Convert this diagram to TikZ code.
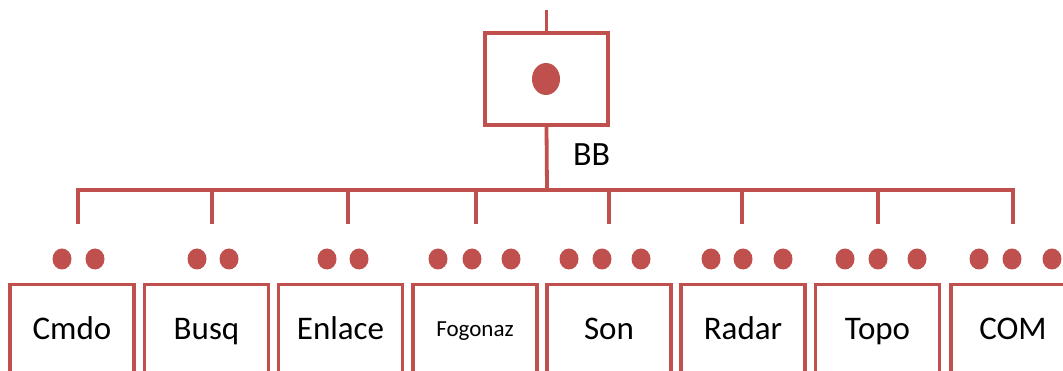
\documentclass[tikz,border=0pt]{standalone}
\usepackage{fontspec}
\setmainfont{Carlito}
\usetikzlibrary{shapes.geometric}
\definecolor{brick}{RGB}{192,80,77}
\tikzset{
  wire/.style={draw=brick, line width=3.8pt},
  unitbox/.style={draw=brick, line width=3.5pt, rectangle, minimum width=124pt, minimum height=130pt, anchor=north, inner sep=0pt},
  hq/.style={draw=brick, line width=3.5pt, rectangle, minimum width=123pt, minimum height=92pt, inner sep=0pt},
  rank/.style={ellipse, fill=brick, minimum width=19pt, minimum height=21pt, inner sep=0pt},
  bigrank/.style={ellipse, fill=brick, minimum width=28pt, minimum height=32pt, inner sep=0pt},
  unitname/.style={font=\fontsize{33}{36}\selectfont, inner sep=0pt, anchor=base},
}
\begin{document}
\begin{tikzpicture}[x=1pt, y=-1pt]
\useasboundingbox (0,0) rectangle (1063,371);
\clip (0,0) rectangle (1063,371);

% command post
\node[hq] (hq) at (546.5,79) {};
\node[bigrank] (hqrank) at (546,79) {};
\coordinate (up) at (546.5,10);
\draw[wire] (up) -- (hq.north);
\node[font=\fontsize{34}{36}\selectfont, anchor=base west, inner sep=0] (bb) at (573,166) {BB};

% distribution bar
\coordinate (bar) at (547,190);
\coordinate (barL) at (76.1,190);
\coordinate (barR) at (1014.9,190);
\draw[wire] (hq.south) -- (bar);
\draw[wire] (barL) -- (barR);

% subordinate units
\foreach \i/\bx/\sx/\name in {1/72/78/Cmdo, 2/206.5/212/Busq, 3/340.5/348/Enlace, 4/475/476/{}, 5/609/609/Son, 6/743/742/Radar, 7/877.5/878/Topo, 8/1013/1013/COM}{
  \coordinate (s\i) at (\sx,190);
  \coordinate (e\i) at (\sx,224);
  \draw[wire] (s\i) -- (e\i);
  \node[unitbox] (u\i) at (\bx,283) {};
  \node[unitname] (t\i) at (\bx,339) {\name};
}
\node[font=\fontsize{23}{26}\selectfont, anchor=base, inner sep=0pt] (t4f) at (475,337) {Fogonaz};

% rank marks
\foreach \x [count=\k] in {62,95,197,229,327,359,438,472,511,569,602,641,711,743,783,845,878,917,979,1012,1052}{
  \node[rank] (r\k) at (\x,259) {};
}
\end{tikzpicture}
\end{document}
